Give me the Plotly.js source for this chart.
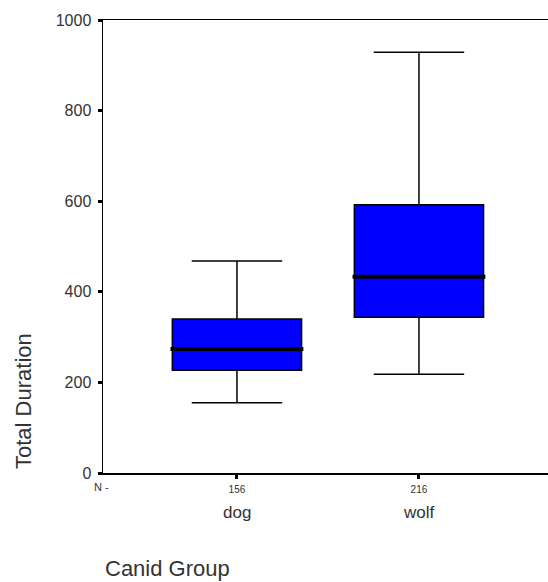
<!DOCTYPE html>
<html>
<head>
<meta charset="utf-8">
<script src="https://cdn.plot.ly/plotly-3.0.1.min.js"></script>
<style>
  html, body { margin: 0; padding: 0; background: #fff; }
  #chart { width: 548px; height: 582px; }
</style>
</head>
<body>
<div id="chart"></div>
<script>
// Canid groups and their sample sizes
const groups = ['dog', 'wolf'];
const sampleN = ['156', '216'];

// Five-number summaries of Total Duration per group
const lowerWhisker = [155, 218];
const quartile1 = [227, 344];
const medians = [274, 433];
const quartile3 = [340, 592];
const upperWhisker = [468, 929];

const positions = groups.map((g, i) => i);
const boxWidth = 0.71;
const fontFamily = 'Arial, "Liberation Sans", sans-serif';

const boxTrace = {
  type: 'box',
  x: positions,
  lowerfence: lowerWhisker,
  q1: quartile1,
  median: medians,
  q3: quartile3,
  upperfence: upperWhisker,
  width: boxWidth,
  whiskerwidth: 0.7,
  fillcolor: '#0000ff',
  line: { color: '#000000', width: 1.5 },
  boxpoints: false,
  hoverinfo: 'skip',
  showlegend: false
};

// Heavy median bars across each box
const medianShapes = positions.map((p, i) => ({
  type: 'line',
  xref: 'x', yref: 'y',
  x0: p - boxWidth / 2 - 0.01, x1: p + boxWidth / 2 + 0.01,
  y0: medians[i], y1: medians[i],
  line: { color: '#000000', width: 4 }
}));

// Group names under the N counts
const groupLabels = positions.map((p, i) => ({
  xref: 'x', yref: 'paper',
  x: p, y: -0.088,
  xanchor: 'center', yanchor: 'middle',
  text: groups[i],
  showarrow: false,
  font: { family: fontFamily, size: 17, color: '#333333' }
}));

const layout = {
  width: 548,
  height: 582,
  margin: { l: 103, r: 0, t: 20, b: 109 },
  paper_bgcolor: '#ffffff',
  plot_bgcolor: '#ffffff',
  showlegend: false,
  xaxis: {
    range: [-0.736, 1.709],
    tickmode: 'array',
    tickvals: positions,
    ticktext: sampleN,
    ticks: 'outside',
    ticklen: 4,
    tickwidth: 3,
    tickcolor: '#000000',
    ticklabelstandoff: 2,
    showline: true,
    linecolor: '#000000',
    linewidth: 1.5,
    mirror: true,
    showgrid: false,
    zeroline: false,
    tickfont: { family: fontFamily, size: 10, color: '#333333' }
  },
  yaxis: {
    range: [0, 1000],
    tickmode: 'array',
    tickvals: [0, 200, 400, 600, 800, 1000],
    ticks: 'outside',
    ticklen: 4,
    tickwidth: 3,
    tickcolor: '#000000',
    ticklabelstandoff: 3,
    showline: true,
    linecolor: '#000000',
    linewidth: 1.5,
    showgrid: false,
    zeroline: false,
    tickfont: { family: fontFamily, size: 16, color: '#333333' }
  },
  shapes: medianShapes,
  annotations: groupLabels.concat([
    {
      xref: 'paper', yref: 'paper',
      x: -0.004, y: -0.031,
      xanchor: 'center', yanchor: 'middle',
      text: 'N -',
      showarrow: false,
      font: { family: fontFamily, size: 11, color: '#333333' }
    },
    {
      xref: 'paper', yref: 'paper',
      x: -0.1775, y: 0.159,
      xanchor: 'center', yanchor: 'middle',
      textangle: -90,
      text: 'Total Duration',
      showarrow: false,
      font: { family: fontFamily, size: 22, color: '#333333' }
    },
    {
      xref: 'paper', yref: 'paper',
      x: 0, y: -0.21,
      xanchor: 'left', yanchor: 'middle',
      text: 'Canid Group',
      showarrow: false,
      font: { family: fontFamily, size: 22, color: '#333333' }
    }
  ])
};

Plotly.newPlot('chart', [boxTrace], layout, { staticPlot: true, displayModeBar: false });
</script>
</body>
</html>
